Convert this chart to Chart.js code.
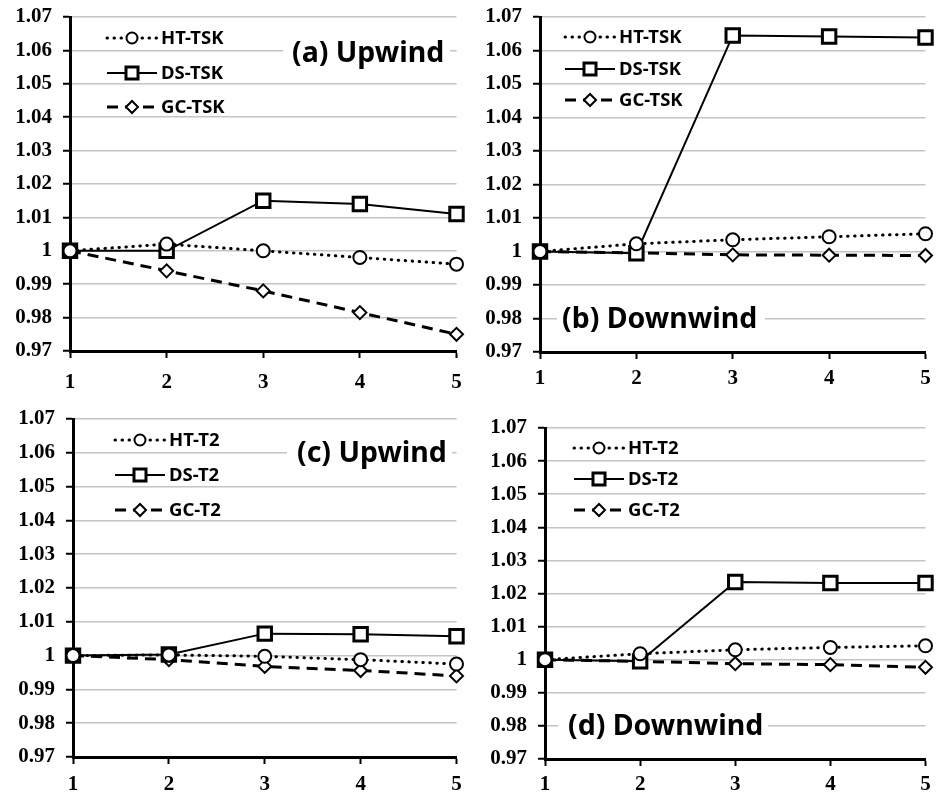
<!DOCTYPE html>
<html>
<head>
<meta charset="utf-8">
<script src="https://cdn.jsdelivr.net/npm/chart.js@4.4.1/dist/chart.umd.min.js"></script>
<style>
    html, body { margin: 0; padding: 0; background: #fff; }
    #wrap { position: relative; width: 938px; height: 796px; overflow: hidden; }
    canvas { position: absolute; }
</style>
</head>
<body>
<div id="wrap">
    <canvas id="chart-a"></canvas>
    <canvas id="chart-b"></canvas>
    <canvas id="chart-c"></canvas>
    <canvas id="chart-d"></canvas>
</div>
<script>
// --- Data ---
const steps = ['1', '2', '3', '4', '5'];
const yMin = 0.97;
const yMax = 1.07;
const yStep = 0.01;

const tskLabels = ['HT-TSK', 'DS-TSK', 'GC-TSK'];
const t2Labels = ['HT-T2', 'DS-T2', 'GC-T2'];

// (a) Upwind, TSK
const htTskUp = [1, 1.002, 1.000, 0.998, 0.996];
const dsTskUp = [1, 1.000, 1.015, 1.014, 1.011];
const gcTskUp = [1, 0.994, 0.988, 0.9815, 0.975];

// (b) Downwind, TSK
const htTskDown = [1, 1.0023, 1.0035, 1.0044, 1.0053];
const dsTskDown = [1, 0.9995, 1.0645, 1.0642, 1.0639];
const gcTskDown = [1, 0.9996, 0.999, 0.9989, 0.9988];

// (c) Upwind, T2
const htT2Up = [1, 1.0002, 0.9998, 0.9988, 0.9975];
const dsT2Up = [1, 1.0003, 1.0065, 1.0063, 1.0057];
const gcT2Up = [1, 0.9988, 0.9968, 0.9956, 0.9940];

// (d) Downwind, T2
const htT2Down = [1, 1.0018, 1.003, 1.0037, 1.0042];
const dsT2Down = [1, 0.9995, 1.0235, 1.0232, 1.0232];
const gcT2Down = [1, 0.9995, 0.9988, 0.9985, 0.9977];

// --- Series styles (HT dotted/circle, DS solid/square, GC dashed/diamond) ---
const seriesStyles = [
    { dash: [0.5, 6.5], cap: 'round', width: 3, point: 'circle', radius: 6.5, pointBorder: 2, legendRadius: 5.5 },
    { dash: [], cap: 'butt', width: 2, point: 'rect', radius: 9.5, pointBorder: 3, legendRadius: 8.5 },
    { dash: [11, 7], cap: 'butt', width: 3, point: 'rectRot', radius: 6.5, pointBorder: 2, legendRadius: 6 }
];

// --- Panel layout ---
const panels = [
    { id: 'chart-a', left: 0, top: 0, w: 469, h: 400, pad: { top: 17, right: 6 }, yWidth: 70, xHeight: 49, xPad: 12,
      title: '(a) Upwind', titleX: 292, titleY: 53, box: [283, 450],
      legendX: 107, legendRows: [38, 73, 107], labels: tskLabels, series: [htTskUp, dsTskUp, gcTskUp] },
    { id: 'chart-b', left: 469, top: 0, w: 469, h: 400, pad: { top: 17, right: 4 }, yWidth: 71, xHeight: 48, xPad: 7,
      title: '(b) Downwind', titleX: 93, titleY: 319, box: [88, 296],
      legendX: 96, legendRows: [37, 69, 100], labels: tskLabels, series: [htTskDown, dsTskDown, gcTskDown] },
    { id: 'chart-c', left: 0, top: 400, w: 469, h: 396, pad: { top: 19, right: 2 }, yWidth: 73, xHeight: 39, xPad: 8,
      title: '(c) Upwind', titleX: 297, titleY: 53, box: [287, 452],
      legendX: 115, legendRows: [40, 75, 110], labels: t2Labels, series: [htT2Up, dsT2Up, gcT2Up] },
    { id: 'chart-d', left: 469, top: 400, w: 469, h: 396, pad: { top: 28, right: 6 }, yWidth: 76, xHeight: 37, xPad: 6,
      title: '(d) Downwind', titleX: 99, titleY: 326, box: [89, 299],
      legendX: 105, legendRows: [48, 79, 110], labels: t2Labels, series: [htT2Down, dsT2Down, gcT2Down] }
];

// --- Plugin: inline legend + panel title ---
const panelDecor = {
    id: 'panelDecor',
    afterDraw(chart, args, opts) {
        const ctx = chart.ctx;
        ctx.save();

        // Title with white box over gridlines
        ctx.fillStyle = '#fff';
        ctx.fillRect(opts.box[0], opts.titleY - 17, opts.box[1] - opts.box[0], 34);
        ctx.fillStyle = '#000';
        ctx.font = 'bold 28.5px "Noto Sans"';
        ctx.textBaseline = 'middle';
        ctx.textAlign = 'left';
        ctx.fillText(opts.title, opts.titleX, opts.titleY + 1);

        // Legend rows
        chart.data.datasets.forEach((ds, i) => {
            const st = seriesStyles[i];
            const y = opts.legendRows[i];
            const x0 = opts.legendX;
            const x1 = x0 + 50;
            ctx.strokeStyle = '#000';
            ctx.lineWidth = st.width;
            ctx.lineCap = st.cap;
            ctx.setLineDash(st.dash);
            ctx.beginPath();
            ctx.moveTo(x0, y);
            ctx.lineTo(x1, y);
            ctx.stroke();

            ctx.setLineDash([]);
            ctx.lineCap = 'butt';
            ctx.fillStyle = '#fff';
            ctx.lineWidth = st.pointBorder;
            Chart.helpers.drawPoint(ctx, {
                pointStyle: st.point, radius: st.legendRadius, rotation: 0, borderWidth: st.pointBorder
            }, (x0 + x1) / 2, y);

            ctx.fillStyle = '#000';
            ctx.font = 'bold 18.5px "Noto Sans"';
            ctx.fillText(ds.label, x1 + 4, y + 1);
        });
        ctx.restore();
    }
};

// --- Build charts ---
function buildDatasets(panel) {
    return panel.series.map((values, i) => {
        const st = seriesStyles[i];
        return {
            label: panel.labels[i],
            data: values,
            borderColor: '#000',
            borderWidth: st.width,
            borderDash: st.dash,
            borderCapStyle: st.cap,
            pointStyle: st.point,
            pointRadius: st.radius,
            pointBorderWidth: st.pointBorder,
            pointBorderColor: '#000',
            pointBackgroundColor: '#fff',
            tension: 0,
            clip: false
        };
    });
}

function formatTick(value) {
    return String(Number(value.toFixed(2)));
}

panels.forEach(panel => {
    const canvas = document.getElementById(panel.id);
    canvas.width = panel.w;
    canvas.height = panel.h;
    canvas.style.left = panel.left + 'px';
    canvas.style.top = panel.top + 'px';

    new Chart(canvas.getContext('2d'), {
        type: 'line',
        data: { labels: steps, datasets: buildDatasets(panel) },
        plugins: [panelDecor],
        options: {
            responsive: false,
            animation: false,
            devicePixelRatio: 1,
            layout: { padding: { left: 0, top: panel.pad.top, right: panel.pad.right, bottom: 0 } },
            plugins: {
                legend: { display: false },
                tooltip: { enabled: false },
                panelDecor: {
                    title: panel.title, titleX: panel.titleX, titleY: panel.titleY, box: panel.box,
                    legendX: panel.legendX, legendRows: panel.legendRows
                }
            },
            scales: {
                x: {
                    offset: false,
                    grid: { drawOnChartArea: false, drawTicks: true, tickLength: 7, tickColor: '#000', tickWidth: 2 },
                    border: { color: '#000', width: 3 },
                    ticks: { color: '#000', padding: panel.xPad, maxRotation: 0, font: { family: '"Liberation Serif"', weight: 'bold', size: 21 } },
                    afterFit(scale) {
                        scale.height = panel.xHeight;
                        scale.paddingLeft = 0;
                        scale.paddingRight = 0;
                    }
                },
                y: {
                    min: yMin,
                    max: yMax,
                    grid: { color: '#c4c4c4', lineWidth: 1.5, tickLength: 7, tickColor: '#000', tickWidth: 2 },
                    border: { color: '#000', width: 3 },
                    ticks: {
                        stepSize: yStep,
                        color: '#000',
                        padding: 11,
                        font: { family: '"Liberation Serif"', weight: 'bold', size: 21 },
                        callback: formatTick
                    },
                    afterFit(scale) {
                        scale.width = panel.yWidth;
                        scale.paddingTop = 0;
                        scale.paddingBottom = 0;
                    }
                }
            }
        }
    });
});
</script>
</body>
</html>
